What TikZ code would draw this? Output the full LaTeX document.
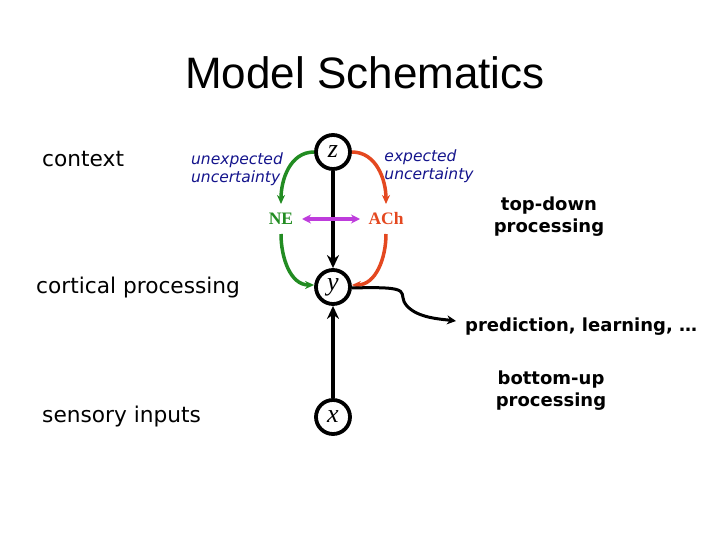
\documentclass[tikz,border=0pt]{standalone}
\usepackage{fontspec}
\setmainfont{Liberation Sans}
\newfontfamily\verd{DejaVu Sans}
\newfontfamily\tms{Liberation Serif}
\usetikzlibrary{arrows.meta}
\definecolor{neg}{RGB}{34,140,34}
\definecolor{achr}{RGB}{228,72,32}
\definecolor{mag}{RGB}{190,60,220}
\definecolor{navy}{RGB}{20,20,140}
\tikzset{
  var/.style={circle,draw=black,line width=3.8pt,minimum size=34pt,inner sep=0pt,font=\tms\itshape\fontsize{26}{26}\selectfont},
  lbl/.style={font=\verd\fontsize{21.7}{24}\selectfont,anchor=base west,inner sep=0pt},
  blbl/.style={font=\verd\bfseries\fontsize{18}{22}\selectfont,align=center,inner sep=0pt},
  unc/.style={font=\verd\itshape\fontsize{15.5}{18}\selectfont,text=navy,align=left,inner sep=0pt},
  nm/.style={font=\tms\bfseries\fontsize{17.5}{17.5}\selectfont,inner sep=1pt},
  tip/.style={-{Stealth[length=9pt,width=8pt]}},
}
\begin{document}
\begin{tikzpicture}[x=1pt,y=-1pt]
\useasboundingbox (0,0) rectangle (720,540);
\node[font=\fontsize{44}{44}\selectfont,inner sep=0pt] (title) at (365,73) {Model Schematics};
\node[var] (z) at (333,152) {z};
\node[var] (y) at (333,287) {y};
\node[var] (x) at (333,417) {x};
\node[nm,text=neg] (ne) at (281,219) {NE};
\node[nm,text=achr] (ach) at (386,219) {ACh};
\coordinate (neT) at (281,204);
\coordinate (neB) at (281,234);
\coordinate (achT) at (386,204);
\coordinate (achB) at (386,234);
\coordinate (mL) at (302,219);
\coordinate (mR) at (360,219);
\node[lbl] (ctx) at (42,167) {context};
\node[lbl] (cort) at (36,293) {cortical processing};
\node[lbl] (sens) at (42,422) {sensory inputs};
\node[unc] (uu) at (237,169) {unexpected\\uncertainty};
\node[unc] (eu) at (429,166) {expected\\uncertainty};
\node[blbl] (td) at (549,217) {top-down\\processing};
\node[blbl] (bu) at (551,391) {bottom-up\\processing};
\node[blbl,anchor=base west] (pred) at (465,331) {prediction, learning, \dots};
\coordinate (predL) at (456,321);
% main arrows
\draw[line width=3.8pt,-{Stealth[length=13pt,width=12pt]}] (z) -- (y);
\draw[line width=3.8pt,-{Stealth[length=13pt,width=12pt]}] (x) -- (y);
% green
\draw[neg,line width=3.5pt,tip] (z.west) to[out=180,in=90] (neT);
\draw[neg,line width=3.5pt,tip] (neB) to[out=-90,in=180] ([yshift=2pt]y.west);
% red
\draw[achr,line width=3.5pt,tip] (z.east) to[out=0,in=90] (achT);
\draw[achr,line width=3.5pt,tip] (achB) to[out=-90,in=0] ([yshift=2pt]y.east);
% magenta
\draw[mag,line width=3.5pt,{Stealth[length=9pt,width=9pt]}-{Stealth[length=9pt,width=9pt]}] (mL) -- (mR);
% prediction arrow
\draw[line width=3pt,-{Stealth[length=9pt,width=9pt]}] ([yshift=-1pt]y.east) .. controls (420,286) and (395,293) .. (407,306) .. controls (418,318) and (440,319) .. (predL);
\end{tikzpicture}
\end{document}
